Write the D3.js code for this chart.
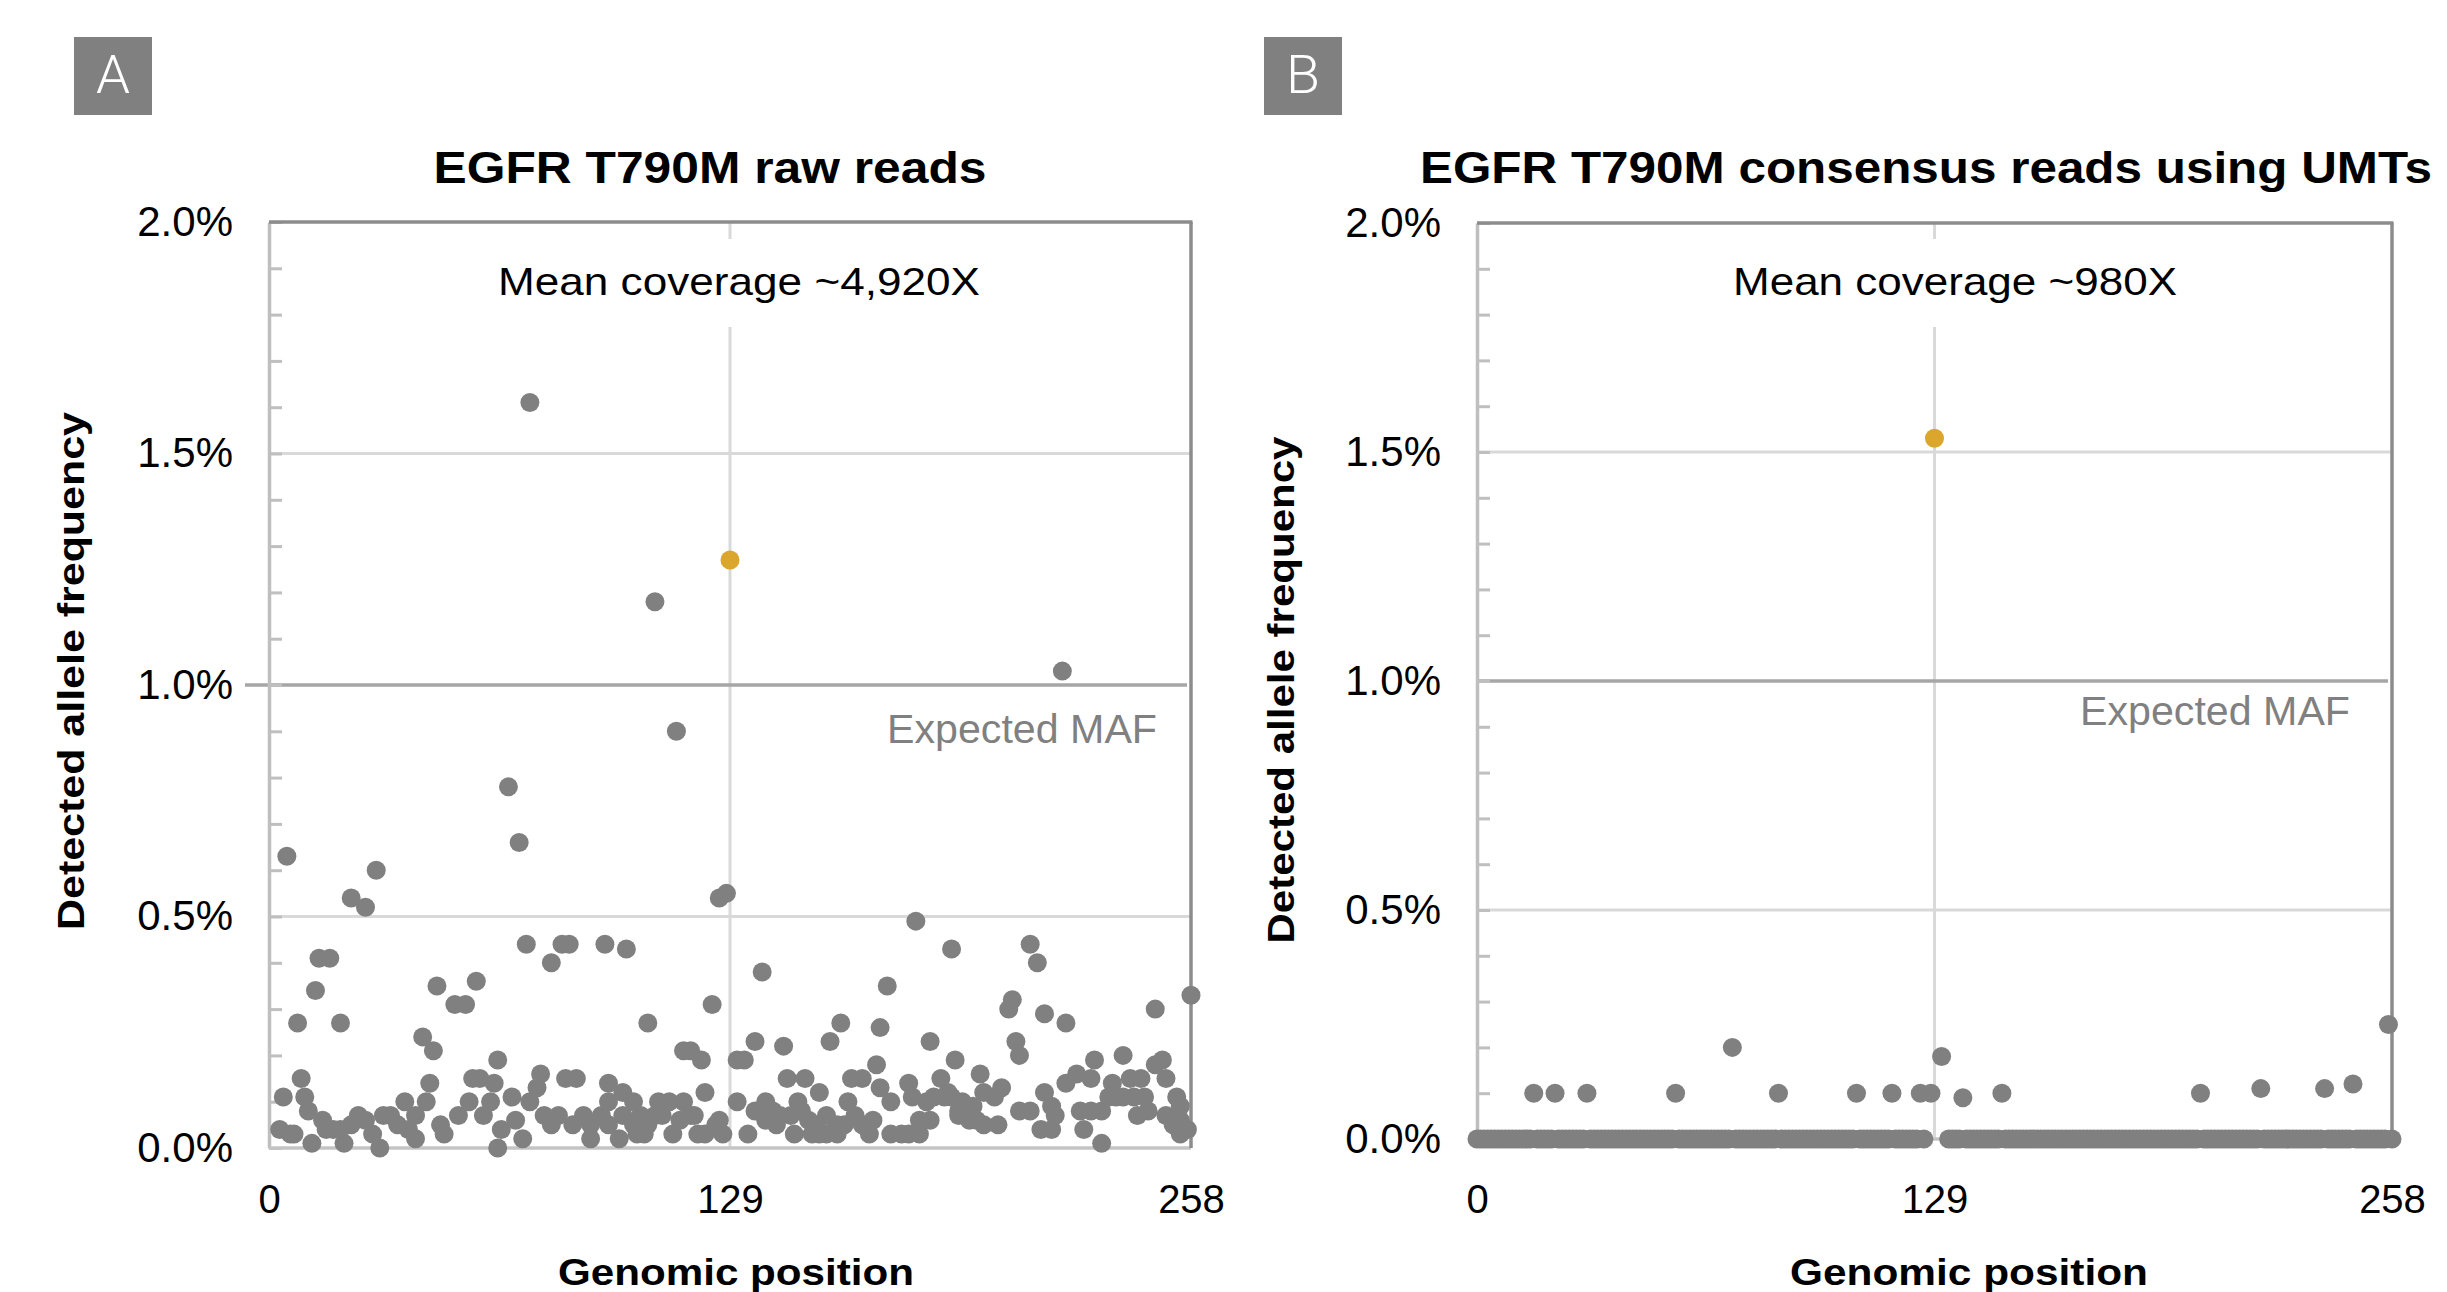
<!DOCTYPE html>
<html>
<head>
<meta charset="utf-8">
<script src="https://cdn.jsdelivr.net/npm/d3@7"></script>
<style>
  body { margin: 0; background: #fff; }
  text { font-family: "Liberation Sans", Arial, Helvetica, sans-serif; }
</style>
</head>
<body>
<svg id="chart" width="2447" height="1292"></svg>
<script>
// ---- data ----
const xTicks = [0, 129, 258];
const yTicks = [0, 0.5, 1, 1.5, 2];
const expectedMaf = 1.0;
const highlightPos = 129;

// raw reads: [genomic position, detected allele frequency %]
const rawReads = [
  [3,0.04],[4,0.11],[5,0.63],[6,0.03],[7,0.03],[8,0.27],[9,0.15],[10,0.11],[11,0.08],[12,0.01],
  [13,0.34],[14,0.41],[15,0.06],[16,0.04],[17,0.41],[18,0.04],[20,0.27],[20,0.04],[21,0.01],[23,0.54],
  [23,0.05],[25,0.07],[27,0.52],[27,0.06],[29,0.03],[30,0.60],[31,0.0],[32,0.07],[34,0.07],[36,0.05],
  [38,0.10],[39,0.04],[41,0.07],[41,0.02],[43,0.24],[44,0.10],[45,0.14],[46,0.21],[47,0.35],[48,0.05],
  [49,0.03],[52,0.31],[53,0.07],[55,0.31],[56,0.10],[57,0.15],[58,0.36],[59,0.15],[60,0.07],[62,0.10],
  [63,0.14],[64,0.19],[64,0.0],[65,0.04],[67,0.78],[68,0.11],[69,0.06],[70,0.66],[71,0.02],[72,0.44],
  [73,1.61],[73,0.10],[75,0.13],[76,0.16],[77,0.07],[79,0.40],[79,0.05],[81,0.07],[82,0.44],[83,0.15],
  [84,0.44],[85,0.05],[86,0.15],[88,0.07],[90,0.05],[90,0.02],[93,0.07],[94,0.44],[95,0.14],[95,0.10],
  [95,0.05],[98,0.02],[99,0.12],[99,0.07],[100,0.43],[102,0.10],[102,0.05],[103,0.03],[104,0.07],[105,0.03],
  [106,0.27],[106,0.05],[108,1.18],[108,0.07],[109,0.10],[110,0.07],[112,0.10],[113,0.03],[114,0.90],[115,0.06],
  [116,0.21],[116,0.10],[118,0.21],[118,0.07],[119,0.07],[120,0.03],[121,0.19],[122,0.12],[122,0.03],[124,0.31],
  [125,0.05],[126,0.54],[126,0.06],[127,0.03],[128,0.55],[129,1.27],
  [131,0.19],[131,0.10],[133,0.19],[134,0.03],[136,0.23],[136,0.08],[138,0.38],[139,0.10],[139,0.06],[141,0.08],
  [142,0.05],[143,0.07],[144,0.22],[145,0.15],[146,0.07],[147,0.03],[148,0.10],[149,0.08],[150,0.15],[151,0.06],
  [152,0.03],[153,0.05],[154,0.12],[154,0.03],[156,0.07],[156,0.03],[157,0.23],[159,0.05],[159,0.03],[160,0.27],
  [161,0.05],[162,0.10],[163,0.15],[164,0.07],[166,0.15],[166,0.05],[168,0.03],[169,0.06],[170,0.18],[171,0.26],
  [171,0.13],[173,0.35],[174,0.10],[174,0.03],[177,0.03],[179,0.14],[179,0.03],[180,0.11],[181,0.49],[182,0.06],
  [182,0.03],[184,0.10],[185,0.23],[185,0.06],[186,0.11],[188,0.15],[189,0.11],[190,0.12],[191,0.43],[191,0.11],
  [192,0.19],[193,0.07],[193,0.08],[194,0.10],[196,0.06],[197,0.09],[198,0.06],[199,0.16],[200,0.12],[200,0.05],
  [203,0.11],[204,0.05],[205,0.13],[207,0.30],[208,0.32],[209,0.23],[210,0.20],[210,0.08],[213,0.44],[213,0.08],
  [215,0.40],[216,0.04],[217,0.29],[217,0.12],[219,0.09],[219,0.04],[220,0.07],[222,1.03],[223,0.27],[223,0.14],
  [226,0.16],[227,0.08],[228,0.04],[230,0.15],[230,0.08],[231,0.19],[233,0.08],[233,0.01],[235,0.11],[236,0.14],
  [237,0.11],[239,0.20],[239,0.11],[241,0.15],[242,0.11],[243,0.07],[244,0.15],[245,0.11],[246,0.08],[248,0.30],
  [248,0.18],[250,0.19],[251,0.15],[251,0.07],[253,0.05],[254,0.11],[255,0.09],[255,0.06],[255,0.03],[257,0.04],
  [258,0.33]
];

// consensus reads using UMTs: one value per position 0..258 (null = no dot seen)
const umtFreq = [
  0,0,0,0,0,0,0,0,0,0,0,0,0,0,0,0,0.10,0,0,0,
  0,0,0.10,0,0,0,0,0,0,0,0,0.10,0,0,0,0,0,0,0,0,
  0,0,0,0,0,0,0,0,0,0,0,0,0,0,0,0,0.10,0,0,0,
  0,0,0,0,0,0,0,0,0,0,0,0,0.20,0,0,0,0,0,0,0,
  0,0,0,0,0,0.10,0,0,0,0,0,0,0,0,0,0,0,0,0,0,
  0,0,0,0,0,0,0,0.10,0,0,0,0,0,0,0,0,0,0.10,0,0,
  0,0,0,0,0,0.10,0,null,0.10,1.53,null,0.18,null,0,0,0,0,0.09,0,0,
  0,0,0,0,0,0,0,0,0.10,0,0,0,0,0,0,0,0,0,0,0,
  0,0,0,0,0,0,0,0,0,0,0,0,0,0,0,0,0,0,0,0,
  0,0,0,0,0,0,0,0,0,0,0,0,0,0,0,0,0,0,0,0,
  0,0,0,0,0.10,0,0,0,0,0,0,0,0,0,0,0,0,0,0,0,
  0,0.11,0,0,0,0,0,0,0,0,0,0,0,0,0,0,0,0,0,0.11,
  0,0,0,0,0,0,0,0.12,0,0,0,0,0,0,0,0,0,0.25,0
];

// ---- layout ----
const panels = [
  {
    label: "A", labelX: 74,
    title: "EGFR T790M raw reads", titleX: 710, titleLen: 553,
    coverage: "Mean coverage ~4,920X", coverageX: 739, coverageLen: 482,
    xRange: [269, 1191], yRange: [1148, 222],
    mafLeft: 245, mafTextX: 1157, mafTextY: 743,
    yTitleX: 84, yTitleY: 671, yTitleLen: 518,
    xTitleX: 736, xTitleLen: 356,
    points: rawReads.map(d => ({ pos: d[0], freq: d[1] }))
  },
  {
    label: "B", labelX: 1264,
    title: "EGFR T790M consensus reads using UMTs", titleX: 1926, titleLen: 1012,
    coverage: "Mean coverage ~980X", coverageX: 1955, coverageLen: 444,
    xRange: [1477, 2392], yRange: [1139, 223],
    mafLeft: 1477, mafTextX: 2350, mafTextY: 725,
    yTitleX: 1294, yTitleY: 690, yTitleLen: 507,
    xTitleX: 1969, xTitleLen: 358,
    points: umtFreq.map((f, i) => ({ pos: i, freq: f })).filter(d => d.freq !== null)
  }
];

const svg = d3.select("#chart");

function drawPanel(cfg) {
  let x = d3.scaleLinear().domain([0, 258]).range(cfg.xRange);
  let y = d3.scaleLinear().domain([0, 2]).range(cfg.yRange);
  let g = svg.append("g");

  // panel letter
  g.append("rect")
    .attr("x", cfg.labelX).attr("y", 37)
    .attr("width", 78).attr("height", 78)
    .attr("fill", "#808080");
  g.append("text")
    .attr("x", cfg.labelX + 39).attr("y", 93)
    .attr("text-anchor", "middle")
    .attr("textLength", 34)
    .attr("lengthAdjust", "spacingAndGlyphs")
    .style("font-family", "Roboto, 'Liberation Sans', sans-serif")
    .style("font-weight", "300")
    .style("font-size", "53px")
    .style("fill", "#fff")
    .text(cfg.label);

  // title
  g.append("text")
    .attr("x", cfg.titleX).attr("y", 183)
    .attr("text-anchor", "middle")
    .attr("textLength", cfg.titleLen)
    .attr("lengthAdjust", "spacingAndGlyphs")
    .style("font-size", "45px").style("font-weight", "bold")
    .text(cfg.title);

  // horizontal gridlines
  g.append("g").selectAll("line")
    .data(yTicks.filter(d => d > 0 && d < 2 && d !== expectedMaf))
    .join("line")
    .attr("x1", x(0)).attr("x2", x(258))
    .attr("y1", d => y(d)).attr("y2", d => y(d))
    .attr("stroke", "#d9d9d9").attr("stroke-width", 3);

  // vertical gridline at the middle position
  g.append("line")
    .attr("x1", x(highlightPos)).attr("x2", x(highlightPos))
    .attr("y1", y(2)).attr("y2", y(0))
    .attr("stroke", "#d9d9d9").attr("stroke-width", 3);

  // expected MAF line
  g.append("line")
    .attr("x1", cfg.mafLeft).attr("x2", x(258) - 4)
    .attr("y1", y(expectedMaf)).attr("y2", y(expectedMaf))
    .attr("stroke", "#a6a6a6").attr("stroke-width", 3.5);
  g.append("text")
    .attr("x", cfg.mafTextX).attr("y", cfg.mafTextY)
    .attr("text-anchor", "end")
    .attr("textLength", 270)
    .attr("lengthAdjust", "spacingAndGlyphs")
    .style("font-size", "41px")
    .style("fill", "#808080")
    .text("Expected MAF");

  // coverage note on a white box
  let cov = g.append("text")
    .attr("x", cfg.coverageX).attr("y", 295)
    .attr("text-anchor", "middle")
    .attr("textLength", cfg.coverageLen)
    .attr("lengthAdjust", "spacingAndGlyphs")
    .style("font-size", "39px")
    .text(cfg.coverage);
  let bb = cov.node().getBBox();
  g.insert("rect", () => cov.node())
    .attr("x", bb.x - 10).attr("y", 239)
    .attr("width", bb.width + 20).attr("height", 88)
    .attr("fill", "#fff");

  // left axis: line and inner minor ticks
  let minor = d3.range(0, 21).map(i => i / 10);
  let yAxis = g.append("g")
    .attr("transform", `translate(${x(0)},0)`)
    .call(d3.axisLeft(y).tickValues(minor).tickSize(-13).tickSizeOuter(0).tickFormat(""));
  yAxis.select(".domain").attr("stroke", "#bfbfbf").attr("stroke-width", 3.5);
  yAxis.selectAll(".tick line").attr("stroke", "#bfbfbf").attr("stroke-width", 3);

  let yLabels = g.append("g")
    .attr("transform", `translate(${x(0)},0)`)
    .call(d3.axisLeft(y).tickValues(yTicks).tickSize(0).tickPadding(36)
      .tickFormat(d => d.toFixed(1) + "%"));
  yLabels.select(".domain").remove();
  yLabels.selectAll("text")
    .style("font-size", "42px").style("fill", "#000")
    .style("font-family", "'Liberation Sans', Arial, sans-serif");

  // bottom axis
  g.append("line")
    .attr("x1", x(0)).attr("x2", x(258))
    .attr("y1", y(0)).attr("y2", y(0))
    .attr("stroke", "#c4c4c4").attr("stroke-width", 3.5);
  let xLabels = g.append("g")
    .attr("transform", `translate(0,${y(0)})`)
    .call(d3.axisBottom(x).tickValues(xTicks).tickSize(0)
      .tickPadding(1213 - y(0) - 28.4));
  xLabels.select(".domain").remove();
  xLabels.selectAll("text")
    .style("font-size", "40px").style("fill", "#000")
    .style("font-family", "'Liberation Sans', Arial, sans-serif");

  // top and right frame
  g.append("line")
    .attr("x1", x(0)).attr("x2", x(258) + 1.5)
    .attr("y1", y(2)).attr("y2", y(2))
    .attr("stroke", "#8c8c8c").attr("stroke-width", 3.5);
  g.append("line")
    .attr("x1", x(258)).attr("x2", x(258))
    .attr("y1", y(2)).attr("y2", y(0))
    .attr("stroke", "#8c8c8c").attr("stroke-width", 3.5);

  // axis titles
  g.append("text")
    .attr("transform", `translate(${cfg.yTitleX},${cfg.yTitleY}) rotate(-90)`)
    .attr("text-anchor", "middle")
    .attr("textLength", cfg.yTitleLen)
    .attr("lengthAdjust", "spacingAndGlyphs")
    .style("font-size", "37px").style("font-weight", "bold")
    .text("Detected allele frequency");
  g.append("text")
    .attr("x", cfg.xTitleX).attr("y", 1285)
    .attr("text-anchor", "middle")
    .attr("textLength", cfg.xTitleLen)
    .attr("lengthAdjust", "spacingAndGlyphs")
    .style("font-size", "37px").style("font-weight", "bold")
    .text("Genomic position");

  // points
  g.append("g").selectAll("circle")
    .data(cfg.points)
    .join("circle")
    .attr("cx", d => x(d.pos))
    .attr("cy", d => y(d.freq))
    .attr("r", 9.5)
    .attr("fill", d => d.pos === highlightPos ? "#daa62b" : "#808080");
}

panels.forEach(drawPanel);
</script>
</body>
</html>
